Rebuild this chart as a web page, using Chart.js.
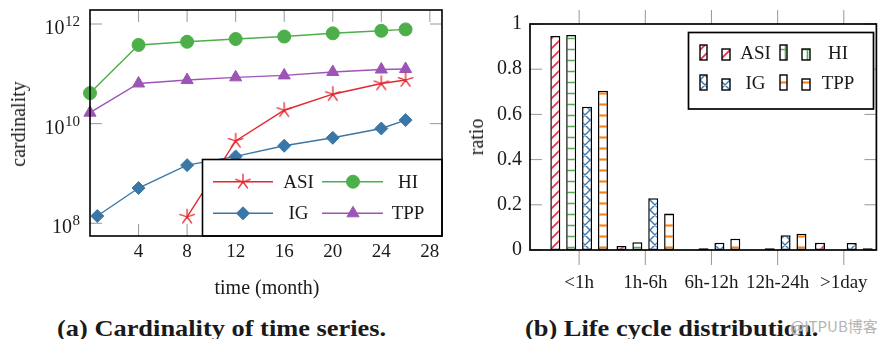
<!DOCTYPE html>
<html><head><meta charset="utf-8">
<script src="https://cdn.jsdelivr.net/npm/chart.js@4"></script>
<style>
html,body{margin:0;padding:0;background:#fff}
body{width:890px;height:339px;overflow:hidden;position:relative;font-family:"Liberation Serif","Times New Roman",serif;color:#1a1a1a}
canvas{position:absolute;top:0}
.t{position:absolute;white-space:nowrap;line-height:1}
.c{transform:translate(-50%,-50%)}
.r{transform:translate(-50%,-50%) rotate(-90deg)}
.cap{font-weight:bold;font-size:24px;transform-origin:0 0;transform:scaleX(1.1)}
.wm{font-family:"Noto Sans CJK SC",sans-serif;font-size:15px;color:#b4b4b4;text-shadow:0 0 2px #fff,0 0 2px #fff}
</style></head><body>
<canvas id="c1" width="450" height="300" style="left:0"></canvas>
<canvas id="c2" width="440" height="300" style="left:450px"></canvas>
<div class="t c" style="left:267px;top:286.5px;font-size:20px">time (month)</div>
<div class="t r" style="left:18px;top:124px;font-size:20px">cardinality</div>
<div class="t r" style="left:476px;top:137px;font-size:20px">ratio</div>
<div class="t cap" style="left:57px;top:315.5px">(a) Cardinality of time series.</div>
<div class="t cap" style="left:525px;top:315.5px">(b) Life cycle distribution.</div>
<div class="t wm" style="left:790px;top:318px">@ITPUB博客</div>
<script>
// ---------- data: (a) cardinality of time series ----------
const asiMonths = [8, 12, 16, 20, 24, 26];
const asiValues = [1.35e8, 4.5e9, 1.86e10, 3.9e10, 6.4e10, 7.5e10];
const hiMonths  = [0, 4, 8, 12, 16, 20, 24, 26];
const hiValues  = [4.1e10, 3.8e11, 4.4e11, 5.0e11, 5.6e11, 6.5e11, 7.3e11, 7.8e11];
const igMonths  = [0.6, 4, 8, 12, 16, 20, 24, 26];
const igValues  = [1.4e8, 5.1e8, 1.47e9, 2.2e9, 3.6e9, 5.2e9, 8.0e9, 1.18e10];
const tppMonths = [0, 4, 8, 12, 16, 20, 24, 26];
const tppValues = [1.66e10, 6.4e10, 7.5e10, 8.5e10, 9.3e10, 1.09e11, 1.22e11, 1.25e11];
const monthTicks = [4, 8, 12, 16, 20, 24, 28];
const cardTicks  = [1e8, 1e10, 1e12];

// ---------- data: (b) life cycle distribution ----------
const lifeCategories = ['<1h', '1h-6h', '6h-12h', '12h-24h', '>1day'];
const asiRatio = [0.947, 0.018, 0, 0, 0.032];
const hiRatio  = [0.951, 0.034, 0.008, 0.008, 0];
const igRatio  = [0.634, 0.229, 0.032, 0.065, 0.031];
const tppRatio = [0.705, 0.162, 0.05, 0.072, 0.008];
const ratioTicks = [0, 0.2, 0.4, 0.6, 0.8, 1];

const FONT = '"Liberation Serif","Times New Roman",serif';
const TXT = '#1a1a1a';
const TICK = '#8c8c8c';
const RED = '#e4262f', GREEN = '#4daf4a', BLUE = '#3b77a6', PURPLE = '#9c55b5', ORANGE = '#ff7f0e';
Chart.defaults.font.family = FONT;
Chart.defaults.color = TXT;

// star (5-arm asterisk) marker
function starImage(color){
  const c = document.createElement('canvas'); c.width = 18; c.height = 18;
  const g = c.getContext('2d'); g.strokeStyle = color; g.lineWidth = 1.3; g.lineCap = 'round';
  g.beginPath();
  for (let k = 0; k < 5; k++){
    const a = -Math.PI/2 + k*2*Math.PI/5;
    g.moveTo(9, 9); g.lineTo(9 + 7.6*Math.cos(a), 9 + 7.6*Math.sin(a));
  }
  g.stroke();
  return c;
}
const starImg = starImage(RED);

const pts = (xs, ys) => xs.map((x, i) => ({x: x, y: ys[i]}));
const lineDs = (label, xs, ys, color, style, r) => ({
  label, data: pts(xs, ys), borderColor: color, backgroundColor: color,
  borderWidth: 1.4, pointStyle: style, pointRadius: r, pointBorderWidth: 1,
  pointBackgroundColor: color, pointBorderColor: color, tension: 0, clip: false
});

const dsA = [
  lineDs('ASI', asiMonths, asiValues, RED, starImg, 7),
  lineDs('HI', hiMonths, hiValues, GREEN, 'circle', 6.5),
  lineDs('IG', igMonths, igValues, BLUE, 'rectRot', 6.5),
  lineDs('TPP', tppMonths, tppValues, PURPLE, 'triangle', 7)
];

const TL = 12;
const plotA = {
  id: 'plotA',
  beforeDatasetsDraw(chart){
    const {ctx, chartArea: a, scales: {x, y}} = chart;
    ctx.save();
    ctx.strokeStyle = TICK; ctx.lineWidth = 0.9;
    ctx.beginPath();
    monthTicks.forEach(v => {
      const px = x.getPixelForValue(v);
      ctx.moveTo(px, a.top); ctx.lineTo(px, a.top + TL);
      ctx.moveTo(px, a.bottom); ctx.lineTo(px, a.bottom - TL);
    });
    cardTicks.forEach(v => {
      const py = y.getPixelForValue(v);
      ctx.moveTo(a.left, py); ctx.lineTo(a.left + TL, py);
      ctx.moveTo(a.right, py); ctx.lineTo(a.right - TL, py);
    });
    ctx.stroke();
    ctx.restore();
  },
  afterDatasetsDraw(chart){
    const {ctx, chartArea: a} = chart;
    ctx.save();
    // legend box
    const lx = 202.5, ly = 159.5;
    ctx.fillStyle = '#fff';
    ctx.fillRect(lx, ly, a.right - lx, a.bottom - ly);
    ctx.strokeStyle = '#000'; ctx.lineWidth = 1.6;
    ctx.strokeRect(lx, ly, a.right - lx, a.bottom - ly);
    const cols = [{l1: 213, l2: 273, m: 243, t: 298.5}, {l1: 322, l2: 383, m: 353, t: 408}];
    const rows = [181.7, 213.3];
    const metas = chart.data.datasets;
    const order = [[0, 0, 0], [1, 1, 0], [2, 0, 1], [3, 1, 1]];
    ctx.font = '19px ' + FONT; ctx.textAlign = 'center'; ctx.textBaseline = 'middle';
    order.forEach(([di, ci, ri]) => {
      const ds = metas[di], c = cols[ci], yy = rows[ri];
      ctx.strokeStyle = ds.borderColor; ctx.lineWidth = 1.4;
      ctx.beginPath(); ctx.moveTo(c.l1, yy); ctx.lineTo(c.l2, yy); ctx.stroke();
      ctx.fillStyle = ds.pointBackgroundColor; ctx.strokeStyle = ds.pointBorderColor; ctx.lineWidth = 1;
      Chart.helpers.drawPoint(ctx, {pointStyle: ds.pointStyle, radius: ds.pointRadius, rotation: 0, borderWidth: 1}, c.m, yy);
      ctx.fillStyle = TXT;
      ctx.fillText(ds.label, c.t, yy + 1);
    });
    // axis box
    ctx.strokeStyle = '#000'; ctx.lineWidth = 1.6;
    ctx.strokeRect(a.left, a.top, a.width, a.height);
    ctx.restore();
  },
  afterDraw(chart){
    const {ctx, scales: {y}} = chart;
    ctx.save();
    ctx.fillStyle = TXT; ctx.textBaseline = 'alphabetic'; ctx.textAlign = 'right';
    const rightEdge = 80;
    cardTicks.forEach(v => {
      const py = y.getPixelForValue(v);
      const e = String(Math.round(Math.log10(v)));
      ctx.font = '15px ' + FONT;
      const ew = ctx.measureText(e).width;
      ctx.fillText(e, rightEdge, py + 2);
      ctx.font = '20px ' + FONT;
      ctx.fillText('10', rightEdge - ew - 0.5, py + 10);
    });
    ctx.restore();
  }
};

new Chart(document.getElementById('c1'), {
  type: 'line',
  data: {datasets: dsA},
  options: {
    responsive: false, animation: false, events: [],
    layout: {padding: {left: 0, right: 5, top: 10, bottom: 0}},
    plugins: {legend: {display: false}, tooltip: {enabled: false}},
    scales: {
      x: {
        type: 'linear', min: 0, max: 29,
        afterBuildTicks: s => { s.ticks = monthTicks.map(v => ({value: v})); },
        afterFit: s => { s.height = 64; },
        grid: {display: false, drawTicks: false}, border: {display: false},
        ticks: {padding: 5, color: TXT, font: {family: FONT, size: 19}, autoSkip: false, maxRotation: 0}
      },
      y: {
        type: 'logarithmic', min: Math.pow(10, 7.745), max: Math.pow(10, 12.281),
        afterBuildTicks: s => { s.ticks = cardTicks.map(v => ({value: v})); },
        afterFit: s => { s.width = 90; },
        grid: {display: false, drawTicks: false}, border: {display: false},
        ticks: {display: false}
      }
    }
  },
  plugins: [plotA]
});

// ---------- (b) bar chart ----------
const ctx2 = document.getElementById('c2').getContext('2d');
function makePattern(kind, color){
  const s = (kind === 'h' || kind === 'grid') ? 11 : 10;
  const c = document.createElement('canvas'); c.width = s; c.height = s;
  const g = c.getContext('2d');
  g.fillStyle = '#fff'; g.fillRect(0, 0, s, s);
  g.strokeStyle = color;
  g.beginPath();
  const ne = () => { g.moveTo(-2, s + 2); g.lineTo(s + 2, -2); g.moveTo(-2, 2); g.lineTo(2, -2); g.moveTo(s - 2, s + 2); g.lineTo(s + 2, s - 2); };
  const nw = () => { g.moveTo(-2, -2); g.lineTo(s + 2, s + 2); g.moveTo(-2, s - 2); g.lineTo(2, s + 2); g.moveTo(s - 2, -2); g.lineTo(s + 2, 2); };
  if (kind === 'ne'){ g.lineWidth = 1.7; ne(); }
  if (kind === 'cross'){ g.lineWidth = 1.4; ne(); nw(); }
  if (kind === 'grid'){ g.lineWidth = 1.6; g.moveTo(0, 5.5); g.lineTo(s, 5.5); g.moveTo(5.5, 0); g.lineTo(5.5, s); }
  if (kind === 'h'){ g.lineWidth = 2.1; g.moveTo(0, 5.5); g.lineTo(s, 5.5); }
  g.stroke();
  return ctx2.createPattern(c, 'repeat');
}
const patASI = makePattern('ne', '#e0304a');
const patHI  = makePattern('grid', GREEN);
const patIG  = makePattern('cross', '#3a78ae');
const patTPP = makePattern('h', ORANGE);

const barDs = (label, vals, pat) => ({
  label, data: vals.map((v, i) => ({x: i, y: v})), backgroundColor: pat,
  borderColor: '#000', borderWidth: 1.5, borderSkipped: false,
  categoryPercentage: 0.96, barPercentage: 0.63
});
const dsB = [
  barDs('ASI', asiRatio, patASI),
  barDs('HI', hiRatio, patHI),
  barDs('IG', igRatio, patIG),
  barDs('TPP', tppRatio, patTPP)
];

const plotB = {
  id: 'plotB',
  afterDatasetsDraw(chart){
    const {ctx, chartArea: a, scales: {x, y}} = chart;
    ctx.save();
    ctx.strokeStyle = TICK; ctx.lineWidth = 0.9;
    ctx.beginPath();
    lifeCategories.forEach((_, i) => {
      const px = x.getPixelForValue(i);
      ctx.moveTo(px, a.top); ctx.lineTo(px, a.top - 14);
      ctx.moveTo(px, a.bottom); ctx.lineTo(px, a.bottom + 15);
    });
    ratioTicks.forEach(v => {
      const py = y.getPixelForValue(v);
      ctx.moveTo(a.left, py); ctx.lineTo(a.left + TL, py);
      ctx.moveTo(a.right, py); ctx.lineTo(a.right - TL, py);
    });
    ctx.stroke();
    ctx.strokeStyle = '#000'; ctx.lineWidth = 1.7;
    ctx.strokeRect(a.left, a.top, a.width, a.height);
    // legend
    const bx = 238.5, by = 32.5, bw = 185, bh = 76.5;
    ctx.fillStyle = '#fff'; ctx.fillRect(bx, by, bw, bh);
    ctx.strokeStyle = '#000'; ctx.lineWidth = 1.7; ctx.strokeRect(bx, by, bw, bh);
    const ds = chart.data.datasets;
    const place = [[0, 0, 0], [1, 1, 0], [2, 0, 1], [3, 1, 1]];
    ctx.font = '19px ' + FONT; ctx.textAlign = 'center'; ctx.textBaseline = 'middle';
    place.forEach(([di, ci, ri]) => {
      const ox = 250 + ci * 80, oy = ri * 30;
      ctx.lineWidth = 1.4; ctx.strokeStyle = '#000'; ctx.fillStyle = ds[di].backgroundColor;
      ctx.fillRect(ox, 45 + oy, 7, 15); ctx.strokeRect(ox, 45 + oy, 7, 15);
      ctx.fillRect(ox + 22, 49 + oy, 8, 11); ctx.strokeRect(ox + 22, 49 + oy, 8, 11);
      ctx.fillStyle = TXT;
      ctx.fillText(ds[di].label, (ci === 0 ? 305.5 : 388), 54 + oy + 0.5);
    });
    ctx.restore();
  }
};

new Chart(ctx2, {
  type: 'bar',
  data: {datasets: dsB},
  options: {
    responsive: false, animation: false, events: [],
    layout: {padding: {left: 0, right: 4, top: 24, bottom: 0}},
    plugins: {legend: {display: false}, tooltip: {enabled: false}},
    scales: {
      x: {
        type: 'linear', offset: false, min: -0.7426, max: 4.4926,
        afterBuildTicks: s => { s.ticks = lifeCategories.map((_, i) => ({value: i})); },
        afterFit: s => { s.height = 50; },
        grid: {display: false, drawTicks: false, offset: false}, border: {display: false},
        ticks: {padding: 22, color: TXT, font: {family: FONT, size: 19}, autoSkip: false, maxRotation: 0,
                callback: v => lifeCategories[v]}
      },
      y: {
        type: 'linear', min: 0, max: 1,
        afterBuildTicks: s => { s.ticks = ratioTicks.map(v => ({value: v})); },
        afterFit: s => { s.width = 80; },
        grid: {display: false, drawTicks: false}, border: {display: false},
        ticks: {padding: 8, color: TXT, font: {family: FONT, size: 20}, callback: v => String(v)}
      }
    }
  },
  plugins: [plotB]
});
</script>
</body></html>
